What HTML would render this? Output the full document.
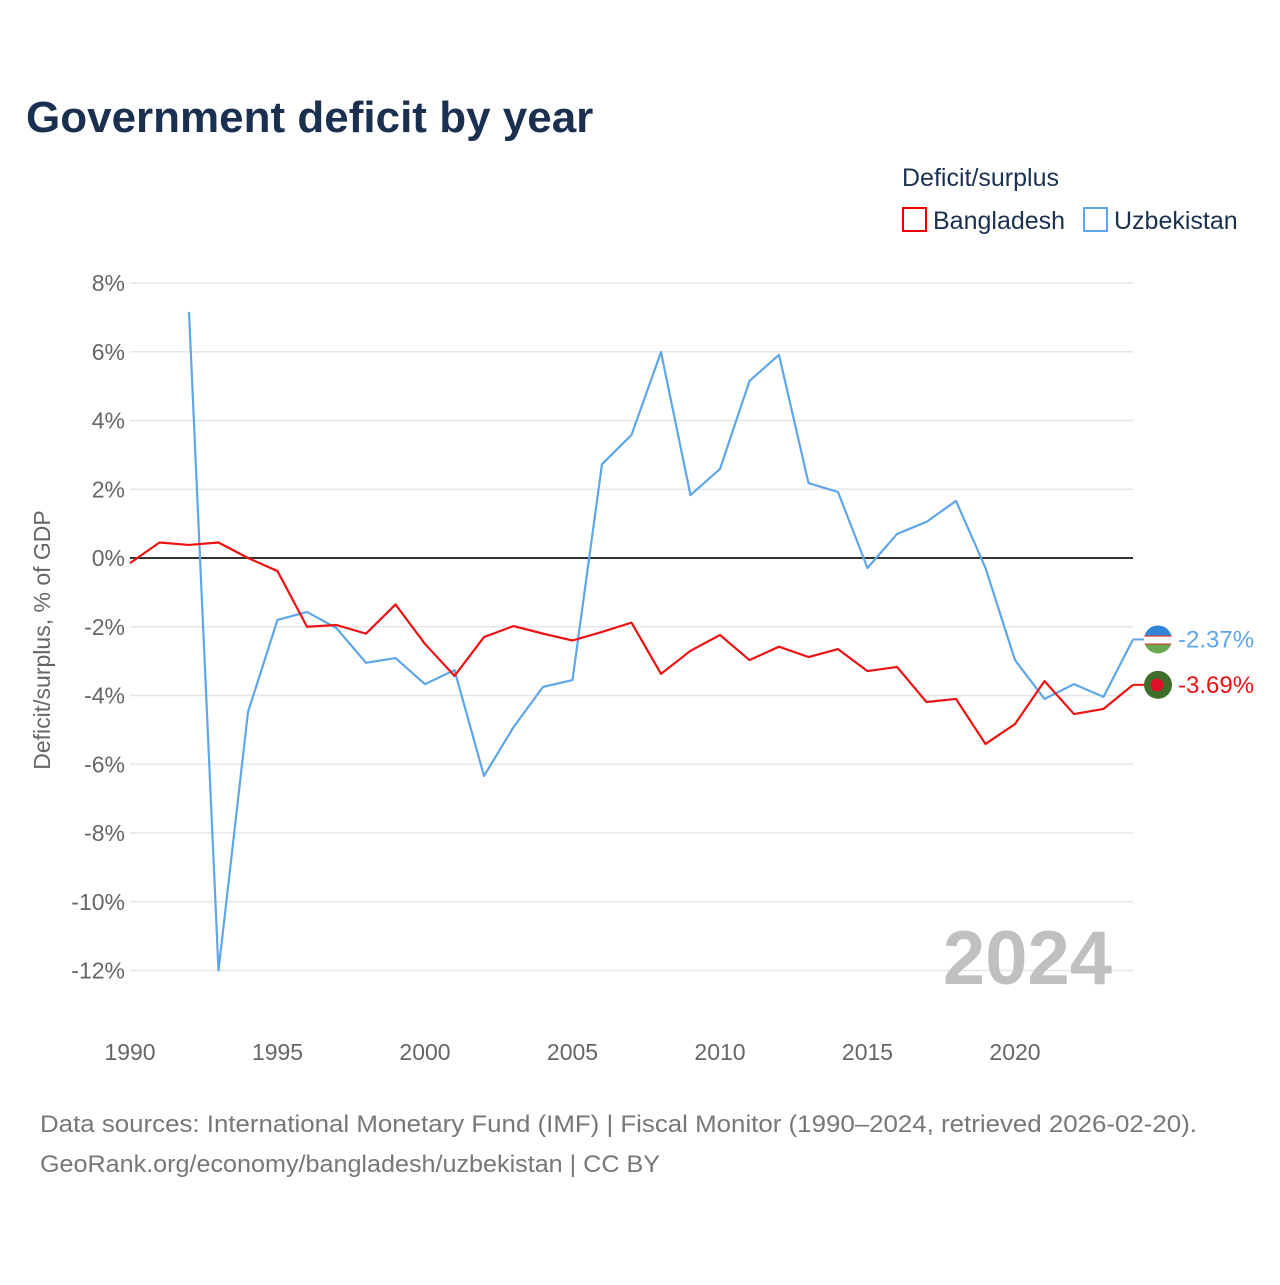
<!DOCTYPE html>
<html><head><meta charset="utf-8"><style>
body{margin:0;background:#fff;font-family:"Liberation Sans",sans-serif}
</style></head><body>
<svg id="chart" width="1280" height="1280" xmlns="http://www.w3.org/2000/svg">
<defs><clipPath id="cu"><circle id="cuc" cx="0" cy="0" r="14"/></clipPath></defs>
<text x="26" y="132" font-size="44" font-weight="bold" fill="#1b3050">Government deficit by year</text>
<text x="902" y="186" font-size="25" fill="#1b3050">Deficit/surplus</text>
<g><rect x="903" y="208" width="23" height="23" fill="none" stroke="#e00" stroke-width="2"/><text x="933" y="229" font-size="25" fill="#1b3050">Bangladesh</text></g>
<g><rect x="1084" y="208" width="23" height="23" fill="none" stroke="#5ea6e8" stroke-width="2"/><text x="1114" y="229" font-size="25" fill="#1b3050">Uzbekistan</text></g>
<text transform="translate(50,640) rotate(-90)" text-anchor="middle" font-size="23" fill="#666">Deficit/surplus, % of GDP</text>
<g id="grid"></g><g id="series"></g>
<text x="1112" y="984" text-anchor="end" font-size="76" font-weight="bold" fill="#c0c0c0">2024</text>
<text x="40" y="1132" font-size="24" fill="#777" textLength="1157" lengthAdjust="spacingAndGlyphs">Data sources: International Monetary Fund (IMF) | Fiscal Monitor (1990–2024, retrieved 2026-02-20).</text>
<text x="40" y="1172" font-size="24" fill="#777" textLength="620" lengthAdjust="spacingAndGlyphs">GeoRank.org/economy/bangladesh/uzbekistan | CC BY</text>
</svg>
<script>
const yTicks=[8,6,4,2,0,-2,-4,-6,-8,-10,-12];
const xTicks=[1990,1995,2000,2005,2010,2015,2020];
const bdYears=[1990,1991,1992,1993,1994,1995,1996,1997,1998,1999,2000,2001,2002,2003,2004,2005,2006,2007,2008,2009,2010,2011,2012,2013,2014,2015,2016,2017,2018,2019,2020,2021,2022,2023,2024];
const bdValues=[-0.15,0.45,0.38,0.45,0.0,-0.38,-2.0,-1.95,-2.2,-1.35,-2.5,-3.43,-2.3,-1.98,-2.2,-2.4,-2.15,-1.88,-3.37,-2.7,-2.24,-2.97,-2.58,-2.88,-2.65,-3.29,-3.17,-4.19,-4.1,-5.41,-4.83,-3.58,-4.54,-4.39,-3.69];
const uzYears=[1992,1993,1994,1995,1996,1997,1998,1999,2000,2001,2002,2003,2004,2005,2006,2007,2008,2009,2010,2011,2012,2013,2014,2015,2016,2017,2018,2019,2020,2021,2022,2023,2024];
const uzValues=[7.16,-12.0,-4.48,-1.8,-1.57,-2.04,-3.05,-2.91,-3.67,-3.26,-6.34,-4.92,-3.75,-3.55,2.73,3.58,5.99,1.83,2.59,5.15,5.91,2.18,1.92,-0.29,0.70,1.05,1.66,-0.29,-2.97,-4.1,-3.67,-4.04,-2.37];
const NS="http://www.w3.org/2000/svg";
const x=yr=>130+(yr-1990)*29.5;
const y=v=>558-v*34.375;
const grid=document.getElementById('grid'),ser=document.getElementById('series');
function mk(tag,attrs,parent){const e=document.createElementNS(NS,tag);for(const k in attrs)e.setAttribute(k,attrs[k]);parent.appendChild(e);return e;}
yTicks.forEach(t=>{
  const l=mk('line',{x1:130,x2:1133,y1:y(t),y2:y(t),stroke:t===0?'#333':'#e6e6e6','stroke-width':t===0?2:1.5},grid);
  
  
  const tx=mk('text',{x:125,y:y(t)+8,'text-anchor':'end','font-size':23,fill:'#666'},grid);
  tx.textContent=t+'%';
  
  
});
xTicks.forEach(t=>{
  const tx=mk('text',{x:x(t),y:1060,'text-anchor':'middle','font-size':23,fill:'#666'},grid);
  tx.textContent=t;
  
  
});
function line(yrs,vals,color,name){
  const p=mk('polyline',{points:yrs.map((yr,i)=>x(yr)+','+y(vals[i])).join(' '),fill:'none',stroke:color,'stroke-width':2.2,'stroke-linejoin':'round'},ser);
  
  
  const lx=x(yrs[yrs.length-1]),ly=y(vals[vals.length-1]);
  const l=mk('line',{x1:lx,x2:lx+12,y1:ly,y2:ly,stroke:color,'stroke-width':2},ser);
  
  
  return [lx+25,ly];
}
const u=line(uzYears,uzValues,'#5ea6e8','uzbekistan-line');
const b=line(bdYears,bdValues,'#ee1111','bangladesh-line');
const cuc=document.getElementById('cuc');
cuc.setAttribute('cx',u[0]);cuc.setAttribute('cy',u[1]);
const uf=mk('g',{'clip-path':'url(#cu)'},ser);


mk('rect',{x:u[0]-14,y:u[1]-14,width:28,height:10,fill:'#2f86d8'},uf);
mk('rect',{x:u[0]-14,y:u[1]-4,width:28,height:9,fill:'#fff'},uf);
mk('rect',{x:u[0]-14,y:u[1]-4,width:28,height:1.2,fill:'#d33'},uf);
mk('rect',{x:u[0]-14,y:u[1]+4,width:28,height:1.2,fill:'#d33'},uf);
mk('rect',{x:u[0]-14,y:u[1]+5,width:28,height:10,fill:'#6aa84f'},uf);
const bf=mk('g',{},ser);


mk('circle',{cx:b[0],cy:b[1],r:14,fill:'#3f6e2a'},bf);
mk('circle',{cx:b[0]-1,cy:b[1],r:6.5,fill:'#e0102a'},bf);
const ut=mk('text',{x:u[0]+20,y:u[1]+8,'font-size':24,fill:'#5ea6e8'},ser);
ut.textContent=uzValues[uzValues.length-1].toFixed(2)+'%';


const bt=mk('text',{x:b[0]+20,y:b[1]+8,'font-size':24,fill:'#ee1111'},ser);
bt.textContent=bdValues[bdValues.length-1].toFixed(2)+'%';


</script>
</body></html>
